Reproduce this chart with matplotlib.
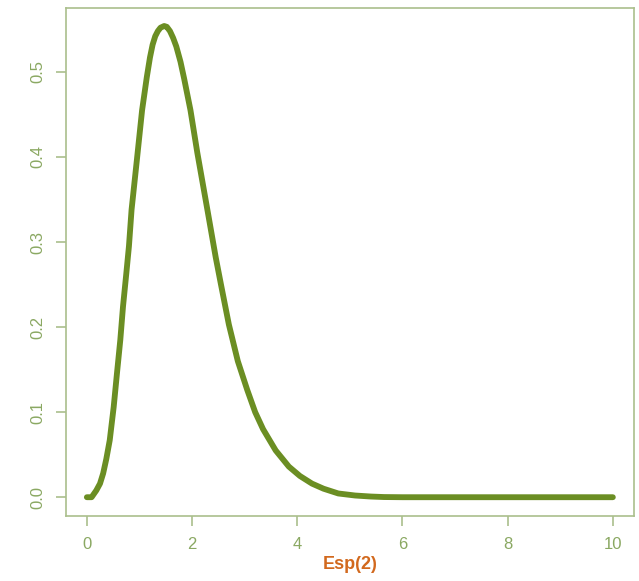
import matplotlib.pyplot as plt

plt.rcParams['font.family'] = ['Liberation Sans', 'DejaVu Sans']

# density curve
x = [0.0, 0.09, 0.18, 0.25, 0.31, 0.37, 0.435, 0.51, 0.573, 0.636, 0.687,
     0.75, 0.80, 0.85, 0.95, 1.05, 1.14, 1.20, 1.25, 1.30, 1.35, 1.40, 1.47,
     1.52, 1.58, 1.64, 1.70, 1.78, 1.85, 1.97, 2.10, 2.20, 2.30, 2.45, 2.55,
     2.70, 2.87, 3.05, 3.20, 3.35, 3.59, 3.84, 4.05, 4.28, 4.50, 4.78, 5.10,
     5.40, 5.65, 6.0, 7.0, 8.0, 9.0, 10.0]
y = [0.0, 0.0, 0.008, 0.016, 0.028, 0.045, 0.067, 0.106, 0.146, 0.185, 0.224,
     0.263, 0.295, 0.338, 0.396, 0.455, 0.494, 0.517, 0.532, 0.542, 0.548,
     0.552, 0.554, 0.553, 0.548, 0.540, 0.530, 0.512, 0.492, 0.455, 0.405,
     0.370, 0.335, 0.282, 0.250, 0.203, 0.160, 0.126, 0.100, 0.080, 0.055,
     0.036, 0.025, 0.016, 0.010, 0.0044, 0.002, 0.0008, 0.0002, 0.0, 0.0,
     0.0, 0.0, 0.0]

xticks = [0, 2, 4, 6, 8, 10]
yticks = [0.0, 0.1, 0.2, 0.3, 0.4, 0.5]

line_col = '#6b8e23'
axis_col = '#aabf8c'
text_col = '#8aa862'

fig = plt.figure(figsize=(6.39, 5.81), dpi=100)
ax = fig.add_axes([0.103, 0.112, 0.889, 0.874])

ax.plot(x, y, color=line_col, lw=4.2, solid_capstyle='round',
        solid_joinstyle='round')

ax.set_xlim(-0.4, 10.4)
ax.set_ylim(-0.022, 0.575)
ax.set_xticks(xticks)
ax.set_xticklabels([str(t) for t in xticks])
ax.set_yticks(yticks)
ax.set_yticklabels(['%.1f' % t for t in yticks], rotation=90, va='center')

for s in ax.spines.values():
    s.set_color(axis_col)
    s.set_linewidth(1.2)
ax.tick_params(colors=axis_col, labelcolor=text_col, length=7, width=1.2,
               labelsize=12, pad=8)

ax.set_xlabel('Esp(2)', color='#d2691e', fontweight='bold', fontsize=13,
              labelpad=3)

fig.savefig('out.png', dpi=100)
